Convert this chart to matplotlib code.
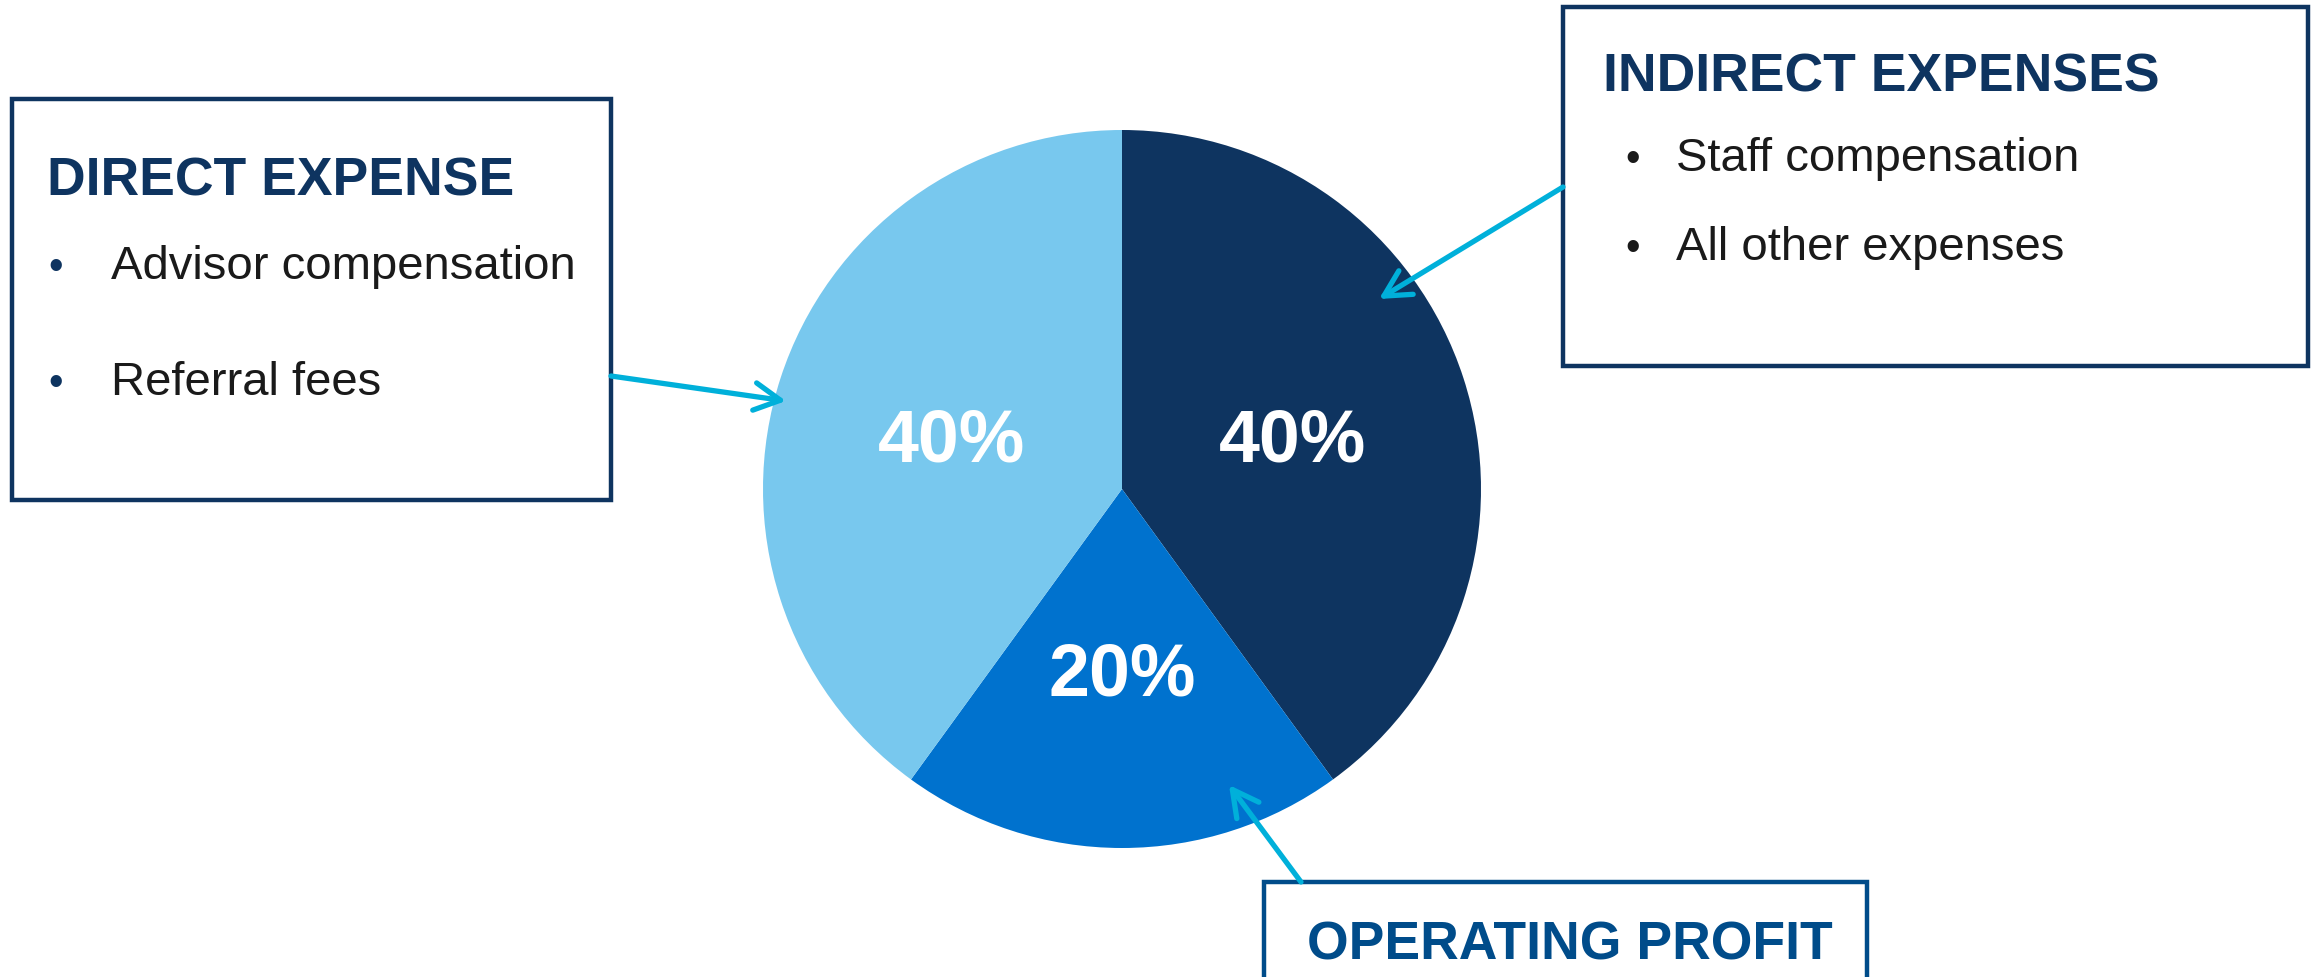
import matplotlib.pyplot as plt
from matplotlib import font_manager
from matplotlib.patches import Rectangle

# Data
segments = ['Indirect expenses', 'Operating profit', 'Direct expense']
shares = [40, 20, 40]
slice_colors = ['#0E3460', '#0072CE', '#78C8EE']

direct_title = 'DIRECT EXPENSE'
direct_items = ['Advisor compensation', 'Referral fees']
indirect_title = 'INDIRECT EXPENSES'
indirect_items = ['Staff compensation', 'All other expenses']
profit_title = 'OPERATING PROFIT'

W, H = 2313, 977
navy = '#0E3460'
profit_blue = '#004C8A'
cyan = '#00B0DA'
body = '#1A1A1A'

plt.rcParams['font.family'] = ['Liberation Sans', 'DejaVu Sans']

# headings use a condensed bold face when one is installed
try:
    font_manager.findfont(font_manager.FontProperties(family='Liberation Sans Narrow'),
                          fallback_to_default=False)
    head_font, head_size = ['Liberation Sans Narrow', 'Liberation Sans'], 45.5
except ValueError:
    head_font, head_size = ['Liberation Sans', 'DejaVu Sans'], 38.5

fig = plt.figure(figsize=(W / 100, H / 100), dpi=100)
ax = fig.add_axes([0, 0, 1, 1])

# Pie
wedges, texts, autotexts = ax.pie(
    shares, colors=slice_colors, startangle=90, counterclock=False,
    center=(1122, H - 489), radius=359, autopct='%d%%', pctdistance=0.5,
    wedgeprops=dict(linewidth=0),
    textprops=dict(color='white', fontsize=53, fontweight='bold'))
for t in autotexts:
    x, y = t.get_position()
    t.set_position((x, y - 8))

ax.set_xlim(0, W)
ax.set_ylim(0, H)
ax.set_aspect('equal')
ax.axis('off')


def box(x0, y0, x1, y1, color):
    # y given in image pixels (top-down)
    ax.add_patch(Rectangle((x0, H - y1), x1 - x0, y1 - y0, fill=False,
                           edgecolor=color, linewidth=3.2, clip_on=False))


def arrow(tail, head):
    ax.annotate('', xy=(head[0], H - head[1]), xytext=(tail[0], H - tail[1]),
                arrowprops=dict(arrowstyle='->, head_length=0.85, head_width=0.45',
                                color=cyan, lw=3.8, shrinkA=0, shrinkB=0,
                                mutation_scale=22, capstyle='round',
                                joinstyle='round'))


def heading(x, yb, s, color):
    ax.text(x, H - yb, s, color=color, fontsize=head_size, family=head_font,
            fontweight='bold', va='baseline')


# Direct expense box
box(12, 99, 611, 500, navy)
heading(47, 196, direct_title, navy)
for i, item in enumerate(direct_items):
    yb = 279 + i * 116
    ax.text(56, H - yb, '\u2022', color=navy, fontsize=30, ha='center', va='baseline')
    ax.text(111, H - yb, item, color=body, fontsize=34, va='baseline')

# Indirect expenses box
box(1563, 7, 2308, 366, navy)
heading(1603, 91, indirect_title, navy)
for i, item in enumerate(indirect_items):
    yb = 171 + i * 89
    ax.text(1633, H - yb, '\u2022', color=body, fontsize=30, ha='center', va='baseline')
    ax.text(1676, H - yb, item, color=body, fontsize=34, va='baseline')

# Operating profit box (runs off the bottom edge)
box(1264, 882, 1867, 1000, profit_blue)
heading(1307, 960, profit_title, profit_blue)

# Arrows
arrow((611, 376), (786, 401))
arrow((1563, 187), (1379, 299))
arrow((1301, 882), (1229, 785))

fig.savefig('out.png', dpi=100)
